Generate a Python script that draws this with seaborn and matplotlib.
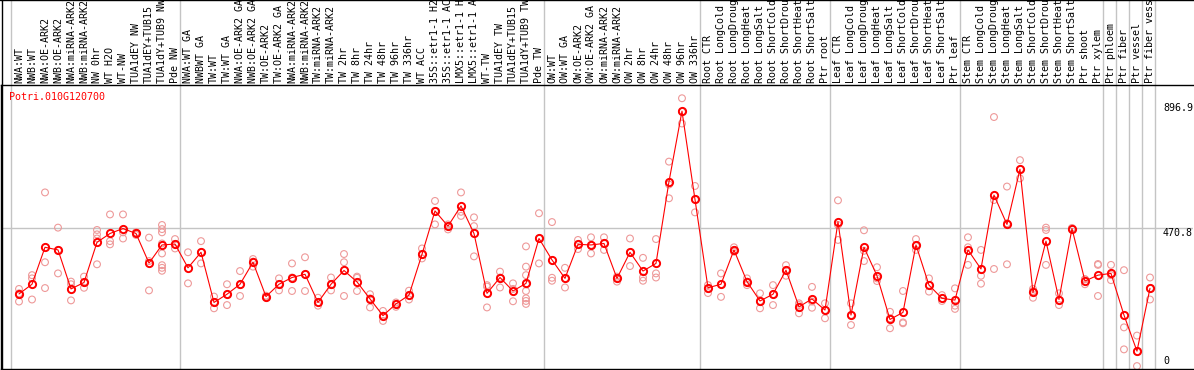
import numpy as np
import pandas as pd
import seaborn as sns
import matplotlib.pyplot as plt
import matplotlib.transforms as mtransforms
from matplotlib.lines import Line2D

# sample names along the top (as shown, cut to 14 characters)
samples = [
    "NWA:WT", "NWB:WT", "NWA:OE-ARK2", "NWB:OE-ARK2", "NWA:miRNA-ARK2", "NWB:miRNA-ARK2",
    "NW 0hr", "WT H2O", "WT-NW", "TUA1dEY NW", "TUA1dEY+TUB15", "TUA1dY+TUB9 NW", "Pde NW",
    "NWA:WT GA", "NWBWT GA", "TW:WT", "TW:WT GA", "NWA:OE-ARK2 GA", "NWB:OE-ARK2 GA",
    "TW:OE-ARK2", "TW:OE-ARK2 GA", "NWA:miRNA-ARK2", "NWB:miRNA-ARK2", "TW:miRNA-ARK2",
    "TW:miRNA-ARK2", "TW 2hr", "TW 8hr", "TW 24hr", "TW 48hr", "TW 96hr", "TW 336hr",
    "WT ACC", "35S::etr1-1 H2", "35S::etr1-1 AC", "LMX5::etr1-1 H", "LMX5::etr1-1 A",
    "WT-TW", "TUA1dEY TW", "TUA1dEY+TUB15", "TUA1dY+TUB9 TW", "Pde TW",
    "OW:WT", "OW:WT GA", "OW:OE-ARK2", "OW:OE-ARK2 GA", "OW:miRNA-ARK2", "OW:miRNA-ARK2",
    "OW 2hr", "OW 8hr", "OW 24hr", "OW 48hr", "OW 96hr", "OW 336hr",
    "Root CTR", "Root LongCold", "Root LongDroug", "Root LongHeat", "Root LongSalt",
    "Root ShortCold", "Root ShortDrou", "Root ShortHeat", "Root ShortSalt", "Ptr root",
    "Leaf CTR", "Leaf LongCold", "Leaf LongDroug", "Leaf LongHeat", "Leaf LongSalt",
    "Leaf ShortCold", "Leaf ShortDrou", "Leaf ShortHeat", "Leaf ShortSalt", "Ptr leaf",
    "Stem CTR", "Stem LongCold", "Stem LongDroug", "Stem LongHeat", "Stem LongSalt",
    "Stem ShortCold", "Stem ShortDrou", "Stem ShortHeat", "Stem ShortSalt", "Ptr shoot",
    "Ptr xylem", "Ptr phloem", "Ptr fiber", "Ptr vessel", "Ptr fiber vess",
]

# mean expression per sample
means = [
    247, 280, 406, 397, 264, 286, 423, 453, 470, 453, 352, 414, 417,
    336, 389, 218, 246, 280, 355, 238, 280, 303, 314, 218, 280, 327, 288, 230, 173,
    213, 243, 382, 530, 478, 547, 453, 249, 303, 257, 283, 436,
    363, 300, 416, 414, 419, 300, 389, 325, 351, 630, 870, 569,
    268, 280, 397, 289, 223, 246, 328, 203, 230, 192,
    493, 175, 406, 309, 160, 184, 414, 277, 232, 226,
    397, 332, 584, 484, 672, 252, 427, 228, 470, 291,
    311, 317, 175, 52, 266,
]

# replicate values per sample
reps = [
    [264, 221, 249], [311, 300, 228], [593, 355, 267], [473, 317, 397], [289, 280, 225],
    [306, 268, 286], [465, 450, 436, 348], [518, 427, 416], [518, 436, 457], [457, 453, 448],
    [439, 259, 359], [482, 468, 457, 419, 385, 345, 336, 326], [434, 402, 417],
    [389, 283], [427, 351, 389], [238, 198, 218], [280, 209, 246], [325, 240, 277],
    [366, 340, 357], [241, 234, 238], [300, 259, 280], [351, 257, 303], [372, 257, 314],
    [234, 207, 218], [303, 259, 277], [383, 355, 240], [306, 302, 257], [246, 201, 232],
    [189, 155, 173], [218, 203, 213], [258, 228, 243], [402, 368, 382], [564, 484, 530],
    [484, 467, 478], [593, 513, 527], [508, 478, 375], [277, 272, 201], [323, 269, 303],
    [283, 222, 264], [409, 340, 311, 280, 257, 232, 223, 213], [522, 351, 436],
    [492, 302, 292], [336, 269, 300], [431, 416, 400], [440, 385, 414], [440, 397, 419],
    [306, 300, 289], [436, 342, 389], [370, 303, 292], [434, 317, 303], [698, 620, 573],
    [914, 868, 828], [615, 569, 525],
    [277, 264, 250], [317, 280, 237], [406, 397, 391], [300, 289, 277], [249, 198, 223],
    [277, 209, 246], [345, 309, 328], [215, 181, 209], [271, 200, 221], [215, 164, 192],
    [566, 431, 482], [215, 141, 175], [464, 359, 394], [338, 291, 300], [186, 130, 164],
    [257, 150, 147], [434, 397, 410], [300, 255, 277], [243, 223, 232], [266, 207, 196],
    [440, 406, 346], [397, 309, 282], [850, 567, 332], [613, 488, 348], [703, 641, 672],
    [264, 234, 257], [473, 465, 346], [249, 209, 226], [468, 470, 472], [297, 280, 297],
    [349, 346, 240], [346, 294, 311], [328, 133, 58], [105, 1, 50], [303, 228, 266],
]

# group separators (between samples)
separators = [-1, 12, 40, 52, 62, 72, 83, 84, 85, 86, 87]
ytick_vals = [896.9, 470.8, 0]
ytick_text = ["896.9", "470.8", "0"]
gene = "Potri.010G120700"

x = np.arange(len(samples))
mean_df = pd.DataFrame({"x": x, "value": means})
rep_df = pd.DataFrame(
    [(i, v) for i, r in enumerate(reps) for v in r], columns=["x", "value"]
)

sns.set_style("white")
plt.rcParams["font.family"] = ["DejaVu Sans Mono"]

fig = plt.figure(figsize=(11.94, 3.70), dpi=100)
ax = fig.add_axes([1 / 1194, 1 / 370, 1192 / 1194, 284 / 370])

grid_col = "#c4c4c4"
top_frac = 369 / 284
for s in separators:
    ax.axvline(s + 0.38, ymin=0, ymax=top_frac, color=grid_col, lw=1, clip_on=False, zorder=0)
ax.axhline(ytick_vals[1], color=grid_col, lw=1, zorder=0)

sns.scatterplot(data=rep_df, x="x", y="value", ax=ax, marker="o", s=24,
                facecolor="none", edgecolor="#ee9999", linewidth=0.8, zorder=2)
sns.lineplot(data=mean_df, x="x", y="value", ax=ax, color="red", lw=0.8,
             marker="o", markersize=5.2, markerfacecolor="none",
             markeredgecolor="red", markeredgewidth=1.4, zorder=3)

ax.set_xlim(-1.385, 90.31)
ax.set_ylim(-8.9, 959.2)
ax.set_xticks([])
ax.set_yticks([])
ax.set_xlabel("")
ax.set_ylabel("")
for side in ["left", "bottom", "top"]:
    ax.spines[side].set_color("black")
    ax.spines[side].set_linewidth(1)
ax.spines["right"].set_visible(False)

# sample labels above the frame
trans = mtransforms.blended_transform_factory(ax.transData, ax.transAxes)
for i, name in enumerate(samples):
    ax.text(i, 1.007, name, transform=trans, rotation=90, ha="center", va="bottom",
            fontsize=7.2, color="black", clip_on=False)

# value labels on the right
ytrans = mtransforms.blended_transform_factory(ax.transAxes, ax.transData)
for v, t in zip(ytick_vals, ytick_text):
    ax.text(0.9748, v, t, transform=ytrans,
            ha="left", va="bottom" if v == 0 else "top", fontsize=7.2, color="black")

ax.text(0.007, 0.975, gene, transform=ax.transAxes, ha="left", va="top",
        fontsize=7.2, color="red")

# outer border lines of the figure
fig.add_artist(Line2D([0, 1], [0.999, 0.999], color="black", lw=1, transform=fig.transFigure))
fig.add_artist(Line2D([1.5 / 1194, 1.5 / 1194], [0, 1], color="black", lw=1, transform=fig.transFigure))

fig.savefig("out.png", dpi=100, facecolor="white")
